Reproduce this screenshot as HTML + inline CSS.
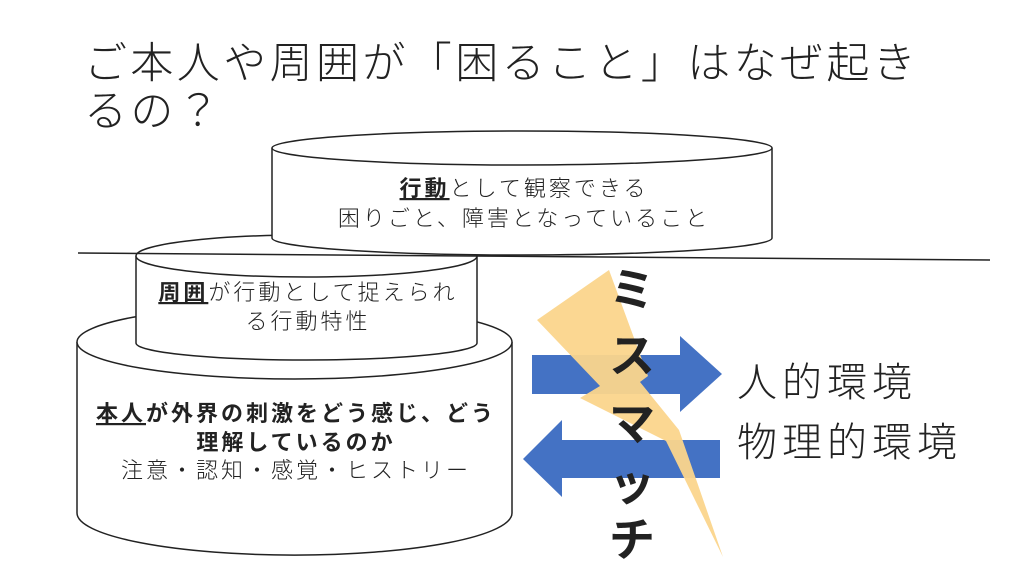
<!DOCTYPE html>
<html><head><meta charset="utf-8"><style>
body{margin:0;background:#fff;width:1024px;height:576px;overflow:hidden}
svg{display:block}
text{font-family:"Liberation Sans","Noto Sans CJK JP",sans-serif;fill:#222}
.l{font-weight:300}
</style></head><body>
<svg width="1024" height="576" viewBox="0 0 1024 576">
<text class="l" x="84" y="78" font-size="43" letter-spacing="3.4">ご本人や周囲が「困ること」はなぜ起き</text>
<text class="l" x="84" y="126" font-size="43" letter-spacing="3.4">るの？</text>

<path d="M77,342 L77,513 A217,42 0 0 0 512,513 L512,342" fill="#fff" stroke="#222" stroke-width="1.5"/>
<ellipse cx="294.5" cy="342" rx="217.5" ry="37" fill="#fff" stroke="#222" stroke-width="1.5"/>
<path d="M136,256 L136,343 A170.5,17 0 0 0 477,343 L477,256" fill="#fff" stroke="#222" stroke-width="1.5"/>
<ellipse cx="306.5" cy="256" rx="170.5" ry="21" fill="#fff" stroke="#222" stroke-width="1.5"/>
<path d="M272,148 L272,238 A250,17 0 0 0 772,238 L772,148" fill="#fff" stroke="#222" stroke-width="1.5"/>
<ellipse cx="522" cy="148" rx="250" ry="17" fill="#fff" stroke="#222" stroke-width="1.5"/>
<line x1="78" y1="253" x2="990" y2="260" stroke="#222" stroke-width="1.5"/>

<g font-size="22" letter-spacing="3" text-anchor="middle">
<text class="l" x="524" y="196"><tspan font-weight="bold" text-decoration="underline">行動</tspan>として観察できる</text>
<text class="l" x="524" y="226">困りごと、障害となっていること</text>
<text class="l" x="308" y="300"><tspan font-weight="bold" text-decoration="underline">周囲</tspan>が行動として捉えられ</text>
<text class="l" x="308" y="329">る行動特性</text>
<text x="296" y="421" font-weight="bold"><tspan text-decoration="underline">本人</tspan>が外界の刺激をどう感じ、どう</text>
<text x="296" y="450" font-weight="bold">理解しているのか</text>
<text class="l" x="296" y="478">注意・認知・感覚・ヒストリー</text>
</g>

<polygon points="532,355 680,355 680,336 722,374 680,412 680,394 532,394" fill="#4472c4"/>
<polygon points="720,440 562,440 562,420 523,459 562,497 562,478 720,478" fill="#4472c4"/>
<polygon points="609,270 537,320 600,386 580,398 666,441 723,557 679,430 640,382 648,376" fill="#fbd58c" fill-opacity="0.95"/>

<g font-size="46" font-weight="bold" text-anchor="middle">
<text x="632" y="306" fill="#000">ミ</text>
<text x="632" y="372" fill="#000">ス</text>
<text x="632" y="440" fill="#000">マ</text>
<text x="632" y="500" fill="#000">ッ</text>
<text x="632" y="556" fill="#000">チ</text>
</g>

<text class="l" x="737" y="396" font-size="40" letter-spacing="5">人的環境</text>
<text class="l" x="737" y="456" font-size="40" letter-spacing="5">物理的環境</text>
</svg>
</body></html>
